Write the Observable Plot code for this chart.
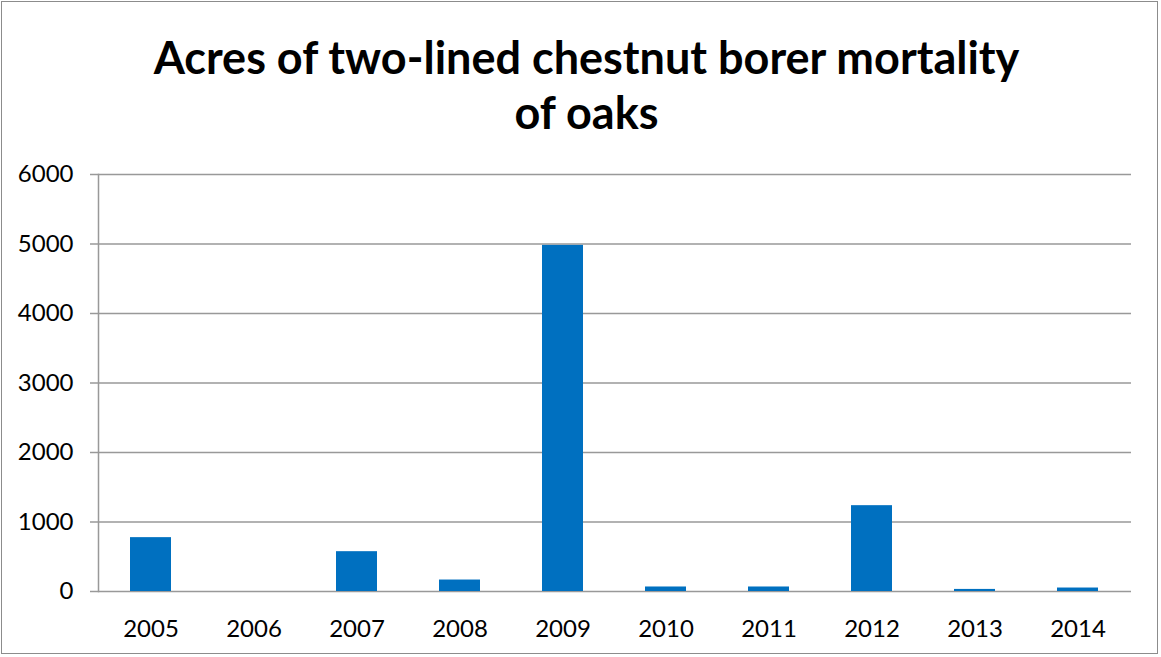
<!DOCTYPE html>
<html>
<head>
<meta charset="utf-8">
<script src="https://cdn.jsdelivr.net/npm/d3@7"></script>
<script src="https://cdn.jsdelivr.net/npm/@observablehq/plot@0.6"></script>
<style>
  html, body { margin: 0; padding: 0; background: #fff; }
  #frame { position: absolute; left: 1px; top: 1px; width: 1157px; height: 653px; border: 1.5px solid #8c8c8c; box-sizing: border-box; overflow: hidden; }
  #title { position: absolute; left: 0; top: 0; width: 1161px; height: 150px; text-align: center; font-family: Lato, "Open Sans", sans-serif; font-weight: bold; font-size: 45px; line-height: 55px; padding-top: 30px; padding-left: 12px; box-sizing: border-box; color: #000; }
  #chart { position: absolute; left: 0; top: 150px; }
</style>
</head>
<body>
<div id="frame"></div>
<div id="title">Acres of two-lined chestnut borer mortality<br>of oaks</div>
<div id="chart"></div>
<script>
const years = ["2005","2006","2007","2008","2009","2010","2011","2012","2013","2014"];
const acres = [775, 0, 573, 165, 4980, 65, 65, 1235, 30, 50];
const yTicks = [0, 1000, 2000, 3000, 4000, 5000, 6000];

const data = years.map((y, i) => ({year: y, acres: acres[i]}));

const plot = Plot.plot({
  width: 1161,
  height: 507,
  marginTop: 24,
  marginBottom: 66,
  marginLeft: 98,
  marginRight: 30,
  style: {fontFamily: "Lato, 'Open Sans', sans-serif", fontSize: "24px", color: "#000", background: "transparent"},
  x: {domain: years, paddingInner: 0.6, paddingOuter: 0.3, label: null},
  y: {domain: [0, 6000], label: null},
  marks: [
    Plot.ruleY(yTicks, {stroke: "#999", strokeWidth: 1.5, strokeOpacity: 1}),
    Plot.frame({anchor: "left", stroke: "#999", strokeWidth: 1.5, strokeOpacity: 1}),
    Plot.barY(data, {x: "year", y: "acres", fill: "#0070c0"}),
    Plot.axisY({ticks: yTicks, tickFormat: "d", tickSize: 8, tickPadding: 17, stroke: "#999", strokeWidth: 1.5, strokeOpacity: 1, fill: "#000", label: null}),
    Plot.axisX({tickSize: 0, tickPadding: 28, fill: "#000", label: null})
  ]
});
document.getElementById("chart").appendChild(plot);
</script>
</body>
</html>
